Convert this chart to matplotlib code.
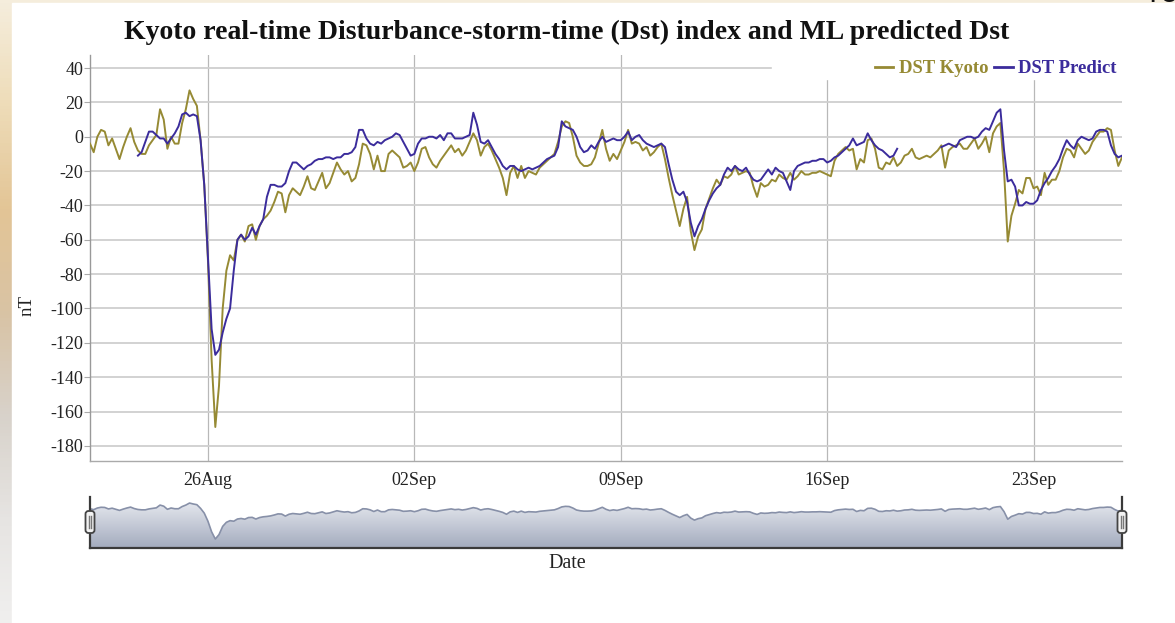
import numpy as np
import pandas as pd
import matplotlib
matplotlib.use('Agg')
import matplotlib.pyplot as plt
import matplotlib.dates as mdates
from matplotlib.patches import Rectangle, FancyBboxPatch
from matplotlib.colors import LinearSegmentedColormap

plt.rcParams['font.family'] = ['Liberation Serif', 'DejaVu Serif']
plt.rcParams['axes.unicode_minus'] = False

# Dst index, 3-hourly samples starting 2018-08-22 00:00 UT (nT)
start = '2018-08-22 00:00'
step = '3h'

dst_kyoto = [
    -4, -9, 0, 4, 3, -5, -1, -7,                  # 22 Aug
    -13, -6, 0, 5, -3, -8, -10, -10,              # 23 Aug
    -5, -2, 1, 16, 10, -7, 0, -4,                 # 24 Aug
    -4, 8, 16, 27, 22, 18, -2, -28,               # 25 Aug
    -72, -130, -169, -145, -100, -78, -69, -72,   # 26 Aug
    -60, -57, -61, -52, -51, -60, -52, -48,       # 27 Aug
    -46, -43, -38, -32, -33, -44, -34, -30,       # 28 Aug
    -32, -34, -29, -23, -30, -31, -26, -21,       # 29 Aug
    -30, -27, -21, -15, -19, -22, -20, -26,       # 30 Aug
    -24, -16, -4, -5, -10, -19, -11, -20,         # 31 Aug
    -20, -10, -8, -10, -12, -18, -17, -15,        # 01 Sep
    -20, -15, -7, -6, -12, -16, -18, -14,         # 02 Sep
    -11, -8, -5, -9, -7, -11, -8, -3,             # 03 Sep
    2, -2, -11, -6, -4, -8, -13, -18,             # 04 Sep
    -24, -34, -21, -17, -24, -17, -24, -20,       # 05 Sep
    -21, -22, -18, -16, -14, -12, -10, -3,        # 06 Sep
    6, 9, 8, 0, -11, -15, -17, -17,               # 07 Sep
    -16, -12, -4, 4, -7, -14, -10, -13,           # 08 Sep
    -8, -3, 4, -4, -3, -4, -8, -6,                # 09 Sep
    -11, -9, -6, -4, -13, -24, -34, -43,          # 10 Sep
    -52, -42, -35, -55, -66, -58, -54, -42,       # 11 Sep
    -36, -30, -25, -28, -23, -24, -22, -17,       # 12 Sep
    -22, -21, -20, -21, -29, -35, -27, -29,       # 13 Sep
    -28, -25, -26, -22, -24, -25, -21, -25,       # 14 Sep
    -23, -20, -22, -22, -21, -21, -20, -21,       # 15 Sep
    -22, -23, -14, -10, -8, -6, -8, -7,           # 16 Sep
    -19, -13, -15, -2, -1, -7, -18, -19,          # 17 Sep
    -15, -16, -12, -17, -15, -11, -10, -7,        # 18 Sep
    -12, -13, -12, -11, -12, -10, -8, -5,         # 19 Sep
    -18, -8, -6, -5, -4, -7, -7, -4,              # 20 Sep
    -1, -7, -4, 0, -9, 2, 6, 8,                   # 21 Sep
    -20, -61, -46, -39, -31, -33, -24, -24,       # 22 Sep
    -30, -29, -34, -21, -28, -25, -25, -20,       # 23 Sep
    -12, -7, -8, -12, -4, -7, -10, -8,            # 24 Sep
    -3, 0, 3, 3, 5, 4, -8, -17,                   # 25 Sep
    -12,                                          # 26 Sep
]

nan = np.nan
dst_predict = [
    nan, nan, nan, nan, nan, nan, nan, nan,
    nan, nan, nan, nan, nan, -11, -9, -3,
    3, 3, 1, -1, -1, -4, -1, 2,
    6, 13, 14, 12, 13, 12, -2, -28,
    -70, -112, -127, -124, -114, -106, -100, -78,
    -60, -57, -60, -58, -53, -57, -52, -48,
    -35, -28, -28, -29, -29, -27, -20, -15,
    -15, -17, -19, -17, -16, -14, -13, -13,
    -12, -12, -13, -12, -12, -10, -10, -9,
    -6, 4, 4, -1, -4, -5, -3, -4,
    -2, -1, 0, 2, 1, -3, -7, -11,
    -10, -4, -1, -1, 0, 0, -1, 1,
    -2, 2, 2, -1, -1, -1, 0, 1,
    14, 7, -3, -4, -2, -6, -10, -13,
    -17, -19, -17, -17, -19, -20, -19, -18,
    -19, -18, -17, -15, -13, -12, -11, -6,
    9, 6, 5, 4, 0, -6, -9, -8,
    -5, -7, -3, 0, -3, -2, -1, -2,
    -2, 0, 3, -2, 0, 1, -2, -4,
    -5, -6, -5, -4, -6, -16, -25, -32,
    -34, -32, -38, -50, -58, -52, -48, -42,
    -37, -33, -30, -28, -22, -18, -20, -17,
    -19, -20, -18, -22, -25, -26, -25, -22,
    -19, -22, -18, -20, -21, -26, -31, -20,
    -17, -16, -15, -15, -14, -14, -13, -13,
    -15, -14, -12, -11, -9, -7, -5, -1,
    -5, -4, -3, 2, -2, -5, -7, -8,
    -10, -12, -11, -7, nan, nan, nan, nan,
    nan, nan, nan, nan, nan, nan, nan, -6,
    -5, -4, -5, -6, -2, -1, 0, 0,
    -1, 0, 3, 5, 4, 9, 14, 16,
    -8, -26, -25, -29, -40, -40, -38, -39,
    -39, -37, -31, -27, -24, -20, -17, -13,
    -7, -2, -5, -7, -2, 0, -1, -2,
    -1, 3, 4, 4, 3, -5, -10, -12,
    -11,
]

date_ticks = ['2018-08-26', '2018-09-02', '2018-09-09', '2018-09-16', '2018-09-23']
y_ticks = list(range(-180, 41, 20))

c_kyoto = '#968a34'
c_predict = '#3b2c9c'

times = pd.date_range(start, periods=len(dst_kyoto), freq=step)
x0, x1 = pd.Timestamp('2018-08-22'), pd.Timestamp('2018-09-26')

W, H = 1175, 623
fig = plt.figure(figsize=(W / 100, H / 100), dpi=100)

# page background behind the chart card
bg = fig.add_axes([0, 0, 1, 1], zorder=-10)
bg_cmap = LinearSegmentedColormap.from_list(
    'bg', ['#f5eddc', '#eedcb8', '#e3c596', '#d9c3a4', '#d8d2ca', '#e6e4e2', '#f0efee'])
bg.imshow(np.linspace(0, 1, 200).reshape(-1, 1), cmap=bg_cmap, aspect='auto',
          extent=[0, 1, 0, 1], origin='upper')
bg.add_patch(Rectangle((12 / W, 0), 1, 1 - 3 / H, color='white'))
bg.set_xlim(0, 1)
bg.set_ylim(0, 1)
bg.axis('off')

# main chart
ax = fig.add_axes([90 / W, 1 - 461 / H, 1032 / W, 406 / H])
ax.plot(times, dst_kyoto, color=c_kyoto, lw=1.4, label='DST Kyoto', zorder=3)
ax.plot(times, dst_predict, color=c_predict, lw=1.4, label='DST Predict', zorder=4)
ax.set_xlim(x0, x1)
ax.set_ylim(-188.8, 47.6)
ax.set_yticks(y_ticks)
ax.set_xticks(pd.to_datetime(date_ticks))
ax.xaxis.set_major_formatter(mdates.DateFormatter('%d%b'))
ax.set_axisbelow(True)
ax.grid(axis='y', color='#cfcfcf', lw=1.3)
ax.grid(axis='x', color='#b8b8b8', lw=0.9)
ax.tick_params(axis='y', length=4, color='#aaaaaa', labelsize=13, pad=1, labelcolor='#222222')
ax.tick_params(axis='x', length=0, labelsize=13, pad=8, labelcolor='#222222')
for side in ['top', 'right']:
    ax.spines[side].set_visible(False)
ax.spines['left'].set_color('#999999')
ax.spines['bottom'].set_color('#aaaaaa')
ax.spines['left'].set_linewidth(1.0)
ax.spines['bottom'].set_linewidth(1.0)

# white band behind the legend
ax.add_patch(Rectangle((0.661, 0.94), 0.339, 0.06, transform=ax.transAxes,
                       color='white', zorder=1))
leg = ax.legend(loc='upper right', bbox_to_anchor=(1.006, 1.015), ncol=2, frameon=False,
                handlelength=1.0, handletextpad=0.3, columnspacing=0.3,
                borderaxespad=0.2, prop={'weight': 'bold', 'size': 13.5})
for txt, c in zip(leg.get_texts(), [c_kyoto, c_predict]):
    txt.set_color(c)
for h in leg.legend_handles:
    h.set_linewidth(2)

fig.text(567 / W, 1 - 32 / H, 'Kyoto real-time Disturbance-storm-time (Dst) index and ML predicted Dst',
         ha='center', va='center', fontsize=20, fontweight='bold', color='#111111')
fig.text(27 / W, 1 - 305 / H, 'nT', rotation=90, ha='center', va='center', fontsize=13.5, color='#222222')
fig.text(567 / W, 1 - 563 / H, 'Date', ha='center', va='center', fontsize=14.5, color='#222222')
fig.text(1148 / W, 1 + 6 / H, 'ro', ha='left', va='center', fontsize=22,
         family='DejaVu Sans', color='#111111')

# range navigator
nav = fig.add_axes([90 / W, 1 - 548 / H, 1032 / W, 51 / H])
nav_lo, nav_hi = -218, 60
nav.set_xlim(x0, x1)
nav.set_ylim(nav_lo, nav_hi)
area = nav.fill_between(times, dst_kyoto, nav_lo, color='none', lw=0)
grad_cmap = LinearSegmentedColormap.from_list('nav', ['#eceef3', '#a3abbe'])
img = nav.imshow(np.linspace(0, 1, 256).reshape(-1, 1), cmap=grad_cmap, aspect='auto',
                 extent=[mdates.date2num(x0), mdates.date2num(x1), nav_lo, nav_hi],
                 origin='upper', zorder=1)
img.set_clip_path(area.get_paths()[0], transform=nav.transData)
nav.plot(times, dst_kyoto, color='#8790a8', lw=1.2, zorder=2)
nav.set_xticks([])
nav.set_yticks([])
nav.spines['top'].set_visible(False)
for side in ['left', 'right', 'bottom']:
    nav.spines[side].set_color('#3a3a3a')
    nav.spines[side].set_linewidth(1.6)
nav.patch.set_alpha(0)

# navigator grips
for gx in [90, 1122]:
    gx_in = gx / 100
    fig.add_artist(FancyBboxPatch((gx_in - 0.045, (H - 533) / 100), 0.09, 0.22,
                                  boxstyle='round,pad=0,rounding_size=0.03',
                                  transform=fig.dpi_scale_trans, facecolor='#f2f2f2',
                                  edgecolor='#444444', lw=1.3, zorder=5))
    for dx in [-0.012, 0.012]:
        fig.add_artist(plt.Line2D([gx_in + dx, gx_in + dx],
                                  [(H - 528) / 100, (H - 516) / 100],
                                  transform=fig.dpi_scale_trans, color='#777777',
                                  lw=1, zorder=6))

fig.savefig('out.png', dpi=100)
